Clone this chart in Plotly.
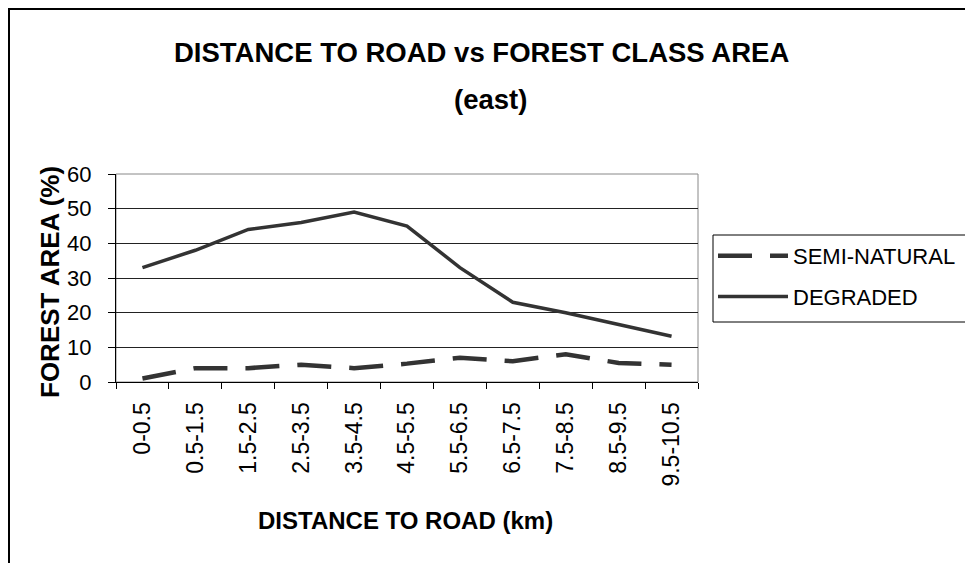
import plotly.graph_objects as go

# Distance bands (km) from the road
distance_bands = ["0-0.5", "0.5-1.5", "1.5-2.5", "2.5-3.5", "3.5-4.5", "4.5-5.5",
                  "5.5-6.5", "6.5-7.5", "7.5-8.5", "8.5-9.5", "9.5-10.5"]

# Forest area share (%) per forest class
semi_natural = [1, 4, 4, 5, 4, 5.3, 7, 6, 8, 5.5, 5]
degraded = [33, 38, 44, 46, 49, 45, 33, 23, 20, 16.6, 13.2]

y_ticks = [0, 10, 20, 30, 40, 50, 60]

FONT = "Liberation Sans, Arial, sans-serif"
LINE_COLOR = "#333333"

W, H = 965, 563
L, R, T, B = 116, 698, 174, 382  # plot area in pixels


def px_x(p):
    return (p - L) / (R - L)


def px_y(p):
    return (B - p) / (B - T)


fig = go.Figure()
fig.add_trace(go.Scatter(
    x=distance_bands, y=semi_natural, name="SEMI-NATURAL", mode="lines",
    legendgroup="a",
    line=dict(color=LINE_COLOR, width=4.5, dash="34px,18px"),
))
fig.add_trace(go.Scatter(
    x=distance_bands, y=degraded, name="DEGRADED", mode="lines",
    legendgroup="b",
    line=dict(color=LINE_COLOR, width=3.5),
))

fig.update_layout(
    width=W, height=H,
    margin=dict(l=L, r=W - R, t=T, b=H - B, pad=0, autoexpand=False),
    paper_bgcolor="white", plot_bgcolor="white",
    font=dict(family=FONT, size=23, color="black"),
    showlegend=True,
    legend=dict(
        x=px_x(713), y=px_y(235), xanchor="left", yanchor="top",
        borderwidth=0, bgcolor="rgba(0,0,0,0)",
        font=dict(size=22, family=FONT), tracegroupgap=9,
        itemwidth=70,
    ),
    xaxis=dict(
        type="category", tickangle=-90, showgrid=False,
        showline=True, linecolor="black", linewidth=1,
        ticks="outside", ticklen=6, tickcolor="black", tickson="boundaries",
        ticklabelstandoff=10,
        tickfont=dict(size=23),
        range=[-0.5, 10.5],
    ),
    yaxis=dict(
        range=[0, 60], tickvals=y_ticks, showgrid=True, gridcolor="#222222", gridwidth=1,
        showline=True, linecolor="black", linewidth=1, zeroline=False,
        ticks="outside", ticklen=7, tickcolor="black",
        ticklabelstandoff=12,
        tickfont=dict(size=22),
    ),
    shapes=[
        # gray frame on the plot area
        dict(type="rect", xref="paper", yref="paper", x0=0, y0=0, x1=1, y1=1,
             line=dict(color="#888888", width=1), layer="below"),
        # legend frame, running off the right edge of the chart
        dict(type="rect", xref="paper", yref="paper",
             x0=px_x(713), y0=px_y(322), x1=px_x(1000), y1=px_y(235),
             line=dict(color="black", width=1), layer="below"),
        # outer chart border
        dict(type="rect", xref="paper", yref="paper",
             x0=px_x(9), y0=px_y(600), x1=px_x(1000), y1=px_y(9),
             line=dict(color="black", width=2)),
    ],
    annotations=[
        dict(text="<b>DISTANCE TO ROAD vs FOREST CLASS AREA</b>", xref="paper", yref="paper",
             x=px_x(481), y=px_y(52), showarrow=False, font=dict(size=27.5),
             xanchor="center", yanchor="middle"),
        dict(text="<b>(east)</b>", xref="paper", yref="paper",
             x=px_x(490), y=px_y(100), showarrow=False, font=dict(size=27.5),
             xanchor="center", yanchor="middle"),
        dict(text="<b>FOREST AREA (%)</b>", xref="paper", yref="paper",
             x=px_x(50), y=px_y(282), showarrow=False, font=dict(size=26),
             textangle=-90, xanchor="center", yanchor="middle"),
        dict(text="<b>DISTANCE TO ROAD (km)</b>", xref="paper", yref="paper",
             x=px_x(405), y=px_y(520), showarrow=False, font=dict(size=24),
             xanchor="center", yanchor="middle"),
    ],
)

fig.write_html("out.html")
